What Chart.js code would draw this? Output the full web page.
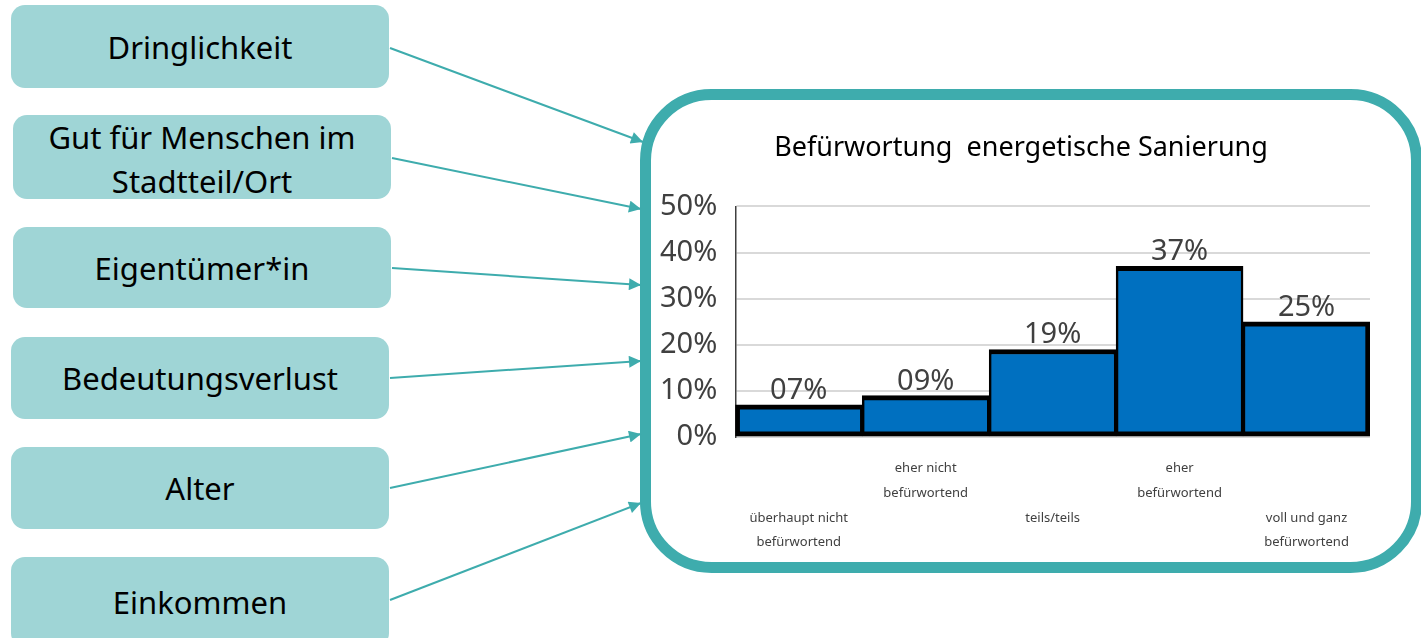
<!DOCTYPE html>
<html lang="de">
<head>
<meta charset="utf-8">
<title>Befürwortung energetische Sanierung</title>
<script src="https://cdn.jsdelivr.net/npm/chart.js@4.4.1/dist/chart.umd.min.js"></script>
<style>
  html, body { margin: 0; padding: 0; background: #fff; }
  body { width: 1421px; height: 638px; position: relative; overflow: hidden; font-family: "Noto Sans", sans-serif; }
  .faktor {
    position: absolute; left: 11px; width: 378px;
    background: #9fd5d6; border-radius: 14px;
    display: flex; align-items: center; justify-content: center; text-align: center;
    font-size: 31px; line-height: 44px; color: #000;
  }
  #pfeile { position: absolute; left: 0; top: 0; }
  #rahmen { position: absolute; left: 634px; top: 102px; width: 774px; height: 464px; }
</style>
</head>
<body>

<div class="faktor" style="top:5px;height:83px">Dringlichkeit</div>
<div class="faktor" style="left:13px;top:115px;height:84px;padding-top:4px;box-sizing:border-box">Gut für Menschen im<br>Stadtteil/Ort</div>
<div class="faktor" style="left:13px;top:227px;height:81px">Eigentümer*in</div>
<div class="faktor" style="top:337px;height:82px">Bedeutungsverlust</div>
<div class="faktor" style="top:447px;height:82px">Alter</div>
<div class="faktor" style="top:557px;height:90px">Einkommen</div>

<svg id="pfeile" width="1421" height="638">
  <defs>
    <marker id="spitze" viewBox="0 0 10 10" refX="10" refY="5" markerWidth="6.5" markerHeight="6" orient="auto" markerUnits="strokeWidth">
      <path d="M0,0 L10,5 L0,10 z" fill="#3eacad"/>
    </marker>
  </defs>
  <rect x="645.5" y="94.5" width="771" height="473" rx="66" ry="66" fill="#fff" stroke="#3eacad" stroke-width="11"/>
  <g stroke="#3eacad" stroke-width="2" marker-end="url(#spitze)">
    <line x1="390" y1="48" x2="643" y2="142"/>
    <line x1="392" y1="158" x2="641" y2="209"/>
    <line x1="392" y1="268" x2="641" y2="285"/>
    <line x1="390" y1="378" x2="641" y2="361"/>
    <line x1="390" y1="488" x2="641" y2="434"/>
    <line x1="390" y1="600" x2="641" y2="503"/>
  </g>
</svg>

<div id="rahmen"><canvas id="grafikSanierung"></canvas></div>

<script>
const kategorien = [
    ['überhaupt nicht', 'befürwortend'],
    ['eher nicht', 'befürwortend'],
    ['teils/teils'],
    ['eher', 'befürwortend'],
    ['voll und ganz', 'befürwortend']
];
const anteile = [7, 9, 19, 37, 25];
const yBeschriftung = ['0%', '10%', '20%', '30%', '40%', '50%'];

const schrift = '"Noto Sans", sans-serif';

// Werte über die Balken schreiben
const werteUeberBalken = {
    id: 'werteUeberBalken',
    afterDatasetsDraw(chart) {
        const ctx = chart.ctx;
        const meta = chart.getDatasetMeta(0);
        ctx.save();
        ctx.font = '29px ' + schrift;
        ctx.fillStyle = '#404040';
        ctx.textAlign = 'center';
        ctx.textBaseline = 'alphabetic';
        meta.data.forEach((balken, i) => {
            let text = String(anteile[i]).padStart(2, '0') + '%';
            ctx.fillText(text, balken.x, balken.y - 6);
        });
        ctx.restore();
    }
};

const grafikSanierung = new Chart(document.getElementById('grafikSanierung'), {
    type: 'bar',
    data: {
        labels: kategorien,
        datasets: [{
            data: anteile,
            backgroundColor: '#0070c0',
            borderColor: '#000',
            borderWidth: (c) => ({
                top: 5,
                bottom: 5,
                left: c.dataIndex === 0 ? 5 : 2.5,
                right: c.dataIndex === anteile.length - 1 ? 5 : 2.5
            }),
            borderSkipped: false,
            categoryPercentage: 1,
            barPercentage: 1
        }]
    },
    options: {
        responsive: true,
        maintainAspectRatio: false,
        animation: false,
        layout: { padding: { left: 8, right: 8, top: 0, bottom: 0 } },
        plugins: {
            legend: { display: false },
            tooltip: { enabled: false },
            title: {
                display: true,
                text: 'Befürwortung  energetische Sanierung',
                color: '#000',
                font: { family: schrift, size: 27, weight: 'normal' },
                padding: { top: 30, bottom: 42 }
            }
        },
        scales: {
            x: {
                grid: { display: false },
                border: { display: false },
                ticks: {
                    color: '#404040',
                    font: { family: schrift, size: 13, lineHeight: 1.9 },
                    padding: 11,
                    maxRotation: 0,
                    autoSkip: false,
                    // jede zweite Beschriftung eine Stufe tiefer
                    callback: (wert, i) => i % 2 === 0 ? ['', ''].concat(kategorien[i]) : kategorien[i]
                }
            },
            y: {
                min: 0,
                max: 50,
                grid: { color: '#d9d9d9', lineWidth: 2, drawTicks: false },
                border: { display: true, color: '#404040', width: 1.5 },
                ticks: {
                    stepSize: 10,
                    color: '#404040',
                    font: { family: schrift, size: 29 },
                    padding: 18,
                    callback: (wert, i) => yBeschriftung[i]
                }
            },
            // leere Achse rechts, nur als Abstand, damit der Titel mittig sitzt
            rechts: {
                type: 'linear',
                position: 'right',
                grid: { display: false },
                border: { display: false },
                ticks: { display: false },
                afterFit: (achse) => { achse.width = 30; }
            }
        }
    },
    plugins: [werteUeberBalken]
});
</script>
</body>
</html>
